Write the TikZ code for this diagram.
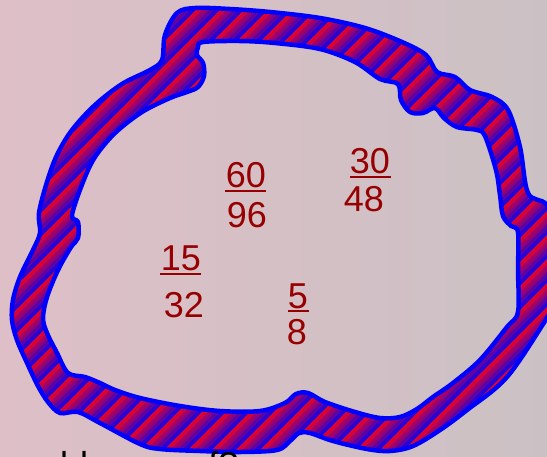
\documentclass[tikz,border=0pt]{standalone}
\usepackage{fontspec}
\setmainfont{Liberation Sans}
\begin{document}
\begin{tikzpicture}[x=1pt,y=-1pt,
  frac/.style={text=fraccol, anchor=base, inner sep=0pt, font=\fontsize{36}{40}\selectfont},
  fracbar/.style={draw=fraccol, line width=2.3pt},
  bandline/.style={draw=borderblue, line width=4.5pt, line join=round}]
\definecolor{bgL}{RGB}{222,191,199}
\definecolor{bgR}{RGB}{203,193,196}
\definecolor{fraccol}{RGB}{150,0,0}
\definecolor{borderblue}{RGB}{0,0,255}
\definecolor{stB}{RGB}{25,0,225}
\definecolor{stR}{RGB}{235,0,35}
\useasboundingbox (0,0) rectangle (547,456);
\shade[left color=bgL,right color=bgR] (0,0) rectangle (547,456);
\begin{scope}[even odd rule]
  \clip plot[smooth cycle,tension=0.55] coordinates {(177,13) (195,8) (230,9) (270,12) (320,18) (365,28) (402,42) (426,55) (437,72) (455,77) (470,90) (492,97) (508,110) (520,147) (528,193) (547,205) (565,240) (565,290) (547,318) (507,377) (467,410) (440,430) (413,446) (390,451) (367,449) (333,441) (310,433) (299,433) (290,441) (277,450) (240,452) (200,451) (160,449) (140,444) (100,423) (78,412) (60,413) (48,402) (38,386) (28,365) (17,340) (12,320) (13,300) (20,277) (33,250) (40,233) (39,213) (47,182) (57,155) (72,130) (95,105) (122,84) (150,70) (162,60) (165,35)}
  plot[smooth cycle,tension=0.55] coordinates {(198,47) (197,55) (203,63) (204,76) (198,87) (187,92) (170,98) (142,112) (115,133) (95,157) (83,182) (72,215) (78,222) (78,238) (71,247) (58,270) (47,297) (43,318) (47,333) (57,353) (68,373) (85,377) (100,383) (115,390) (140,398) (180,406) (220,411) (260,411) (285,403) (296,394) (308,393) (325,402) (355,412) (380,418) (400,417) (417,409) (433,397) (453,383) (480,360) (507,327) (518,312) (518,270) (518,232) (511,226) (503,216) (500,195) (496,170) (485,136) (477,130) (457,127) (444,118) (435,108) (423,113) (410,112) (401,100) (398,84) (380,79) (355,62) (320,49) (275,43) (240,41) (203,42)};
  \foreach \m in {-28,...,15}{
    \foreach \j in {0,...,9}{
      \pgfmathsetmacro\ca{662+24*\m+2.4*\j}
      \pgfmathsetmacro\cb{\ca+2.8}
      \pgfmathtruncatemacro\pc{round((9-\j)*100/9)}
      \fill[stR!\pc!stB] (\ca+50,-50) -- (\ca-510,510) -- (\cb-510,510) -- (\cb+50,-50) -- cycle;
    }
  }
\end{scope}
\draw[bandline] plot[smooth cycle,tension=0.55] coordinates {(177,13) (195,8) (230,9) (270,12) (320,18) (365,28) (402,42) (426,55) (437,72) (455,77) (470,90) (492,97) (508,110) (520,147) (528,193) (547,205) (565,240) (565,290) (547,318) (507,377) (467,410) (440,430) (413,446) (390,451) (367,449) (333,441) (310,433) (299,433) (290,441) (277,450) (240,452) (200,451) (160,449) (140,444) (100,423) (78,412) (60,413) (48,402) (38,386) (28,365) (17,340) (12,320) (13,300) (20,277) (33,250) (40,233) (39,213) (47,182) (57,155) (72,130) (95,105) (122,84) (150,70) (162,60) (165,35)}
  plot[smooth cycle,tension=0.55] coordinates {(198,47) (197,55) (203,63) (204,76) (198,87) (187,92) (170,98) (142,112) (115,133) (95,157) (83,182) (72,215) (78,222) (78,238) (71,247) (58,270) (47,297) (43,318) (47,333) (57,353) (68,373) (85,377) (100,383) (115,390) (140,398) (180,406) (220,411) (260,411) (285,403) (296,394) (308,393) (325,402) (355,412) (380,418) (400,417) (417,409) (433,397) (453,383) (480,360) (507,327) (518,312) (518,270) (518,232) (511,226) (503,216) (500,195) (496,170) (485,136) (477,130) (457,127) (444,118) (435,108) (423,113) (410,112) (401,100) (398,84) (380,79) (355,62) (320,49) (275,43) (240,41) (203,42)};
% fractions
\node[frac] (n60) at (246,187) {60};
\draw[fracbar] (225,191) -- (266,191);
\node[frac] (d96) at (247,227) {96};
\node[frac] (n30) at (370,173) {30};
\draw[fracbar] (350,177) -- (391,177);
\node[frac] (d48) at (364,211) {48};
\node[frac] (n15) at (181,270) {15};
\draw[fracbar] (160,274) -- (201,274);
\node[frac] (d32) at (184,317) {32};
\node[frac] (n5) at (298,308) {5};
\draw[fracbar] (288,311) -- (309,311);
\node[frac] (d8) at (297,344) {8};
% clipped caption at the bottom
\node[anchor=base west, inner sep=0pt, font=\fontsize{36}{40}\selectfont] (cap) at (40,477) {able one of?};
\end{tikzpicture}
\end{document}
